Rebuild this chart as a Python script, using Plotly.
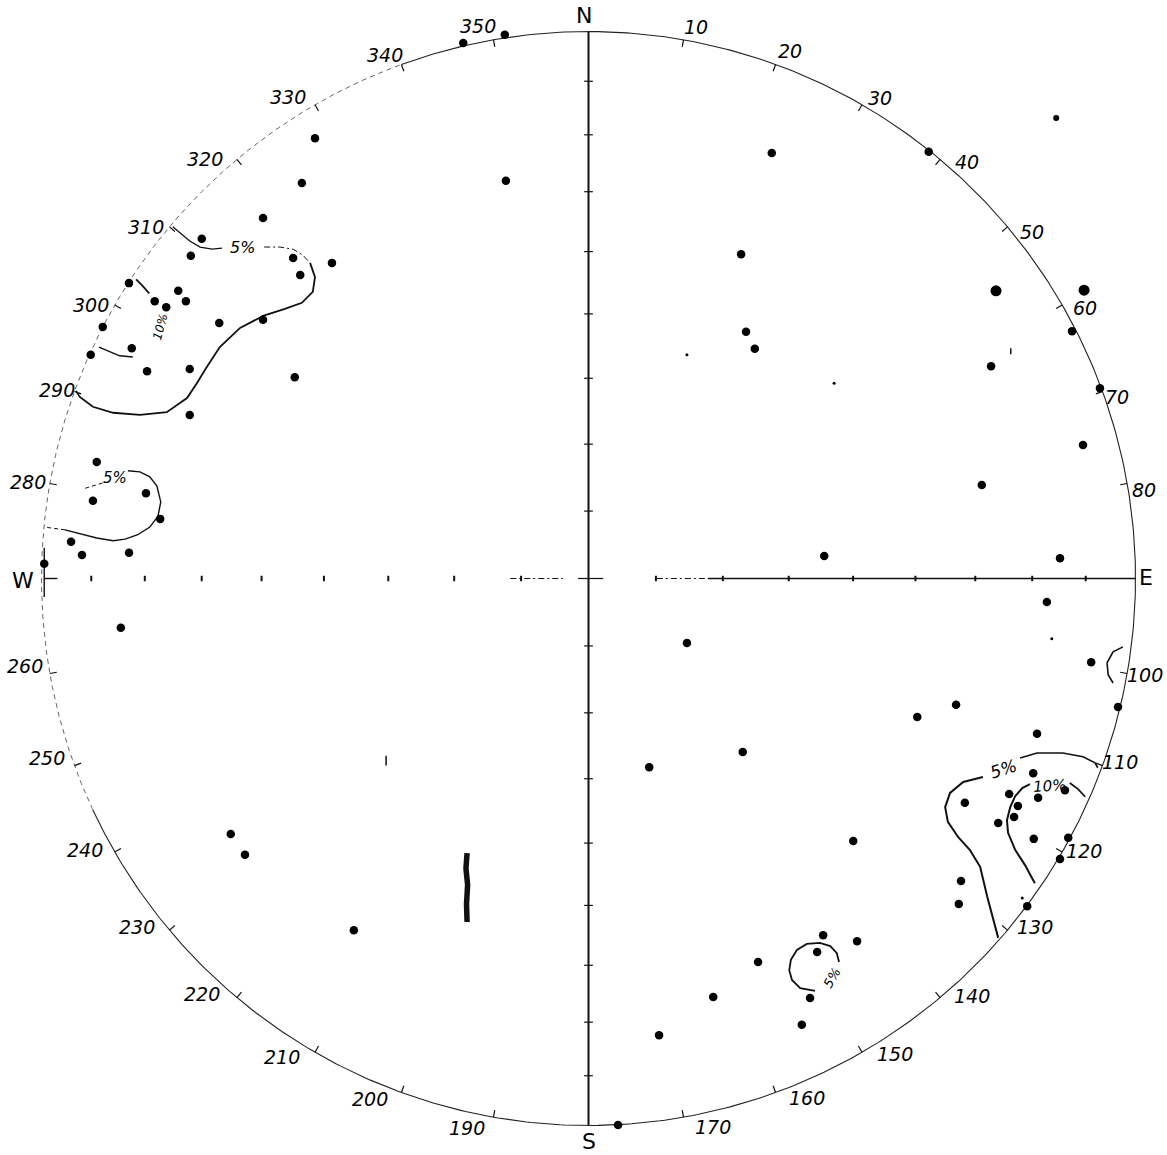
import numpy as np
import plotly.graph_objects as go

# ---------------- DATA (equal-area net coordinates: x = east, y = north, net radius = 1) -------------
pole_x = [-0.500, -0.524, -0.595, -0.707, -0.727, -0.540, -0.469, -0.527, -0.840, -0.750,
          -0.736, -0.793, -0.772, -0.675, -0.595, -0.888, -0.835, -0.910, -0.807, -0.729,
          -0.537, -0.729, -0.899, -0.906, -0.809, -0.783, -0.946, -0.926, -0.840, -0.995,
          -0.855, -0.229, -0.153, -0.151, 0.335, 0.279, 0.288, 0.304, 0.622,
          0.884, 0.736, 0.935, 0.904, 0.719, 0.431, 0.862, 0.838, 0.919, 0.672, 0.601,
          0.968, 0.820, 0.180, 0.282, 0.111, 0.813, 0.769, 0.822, 0.688, 0.785,
          0.778, 0.749, 0.814, 0.877, 0.862, 0.484, 0.681, 0.677, 0.802, 0.429,
          0.491, 0.418, 0.405, 0.390, 0.310, 0.228, 0.129, 0.054, -0.654, -0.628,
          -0.429, 0.871]
pole_y = [0.805, 0.723, 0.659, 0.621, 0.590, 0.586, 0.577, 0.555, 0.540, 0.526,
          0.507, 0.507, 0.496, 0.467, 0.473, 0.460, 0.421, 0.409, 0.379, 0.383,
          0.368, 0.299, 0.213, 0.142, 0.156, 0.109, 0.067, 0.043, 0.047, 0.027,
          -0.090, 0.979, 0.994, 0.727, 0.778, 0.593, 0.451, 0.420, 0.780,
          0.452, 0.388, 0.348, 0.244, 0.171, 0.041, 0.037, -0.043, -0.153, -0.231, -0.253,
          -0.235, -0.284, -0.118, -0.317, -0.345, -0.356, -0.394, -0.401, -0.410, -0.416,
          -0.436, -0.447, -0.476, -0.474, -0.513, -0.480, -0.553, -0.595, -0.599, -0.652,
          -0.663, -0.683, -0.767, -0.816, -0.701, -0.765, -0.835, -0.999, -0.467, -0.505,
          -0.643, -0.387]

# poles drawn as larger blots
blot_x = [0.745, 0.906]
blot_y = [0.526, 0.527]
# small pole
small_x = [0.855]
small_y = [0.842]
# faint specks
speck_x = [0.449, 0.180, 0.847, 0.793]
speck_y = [0.357, 0.409, -0.110, -0.584]
# ink smudge and strokes
smudge_x = [-0.222, -0.224, -0.221, -0.223, -0.222]
smudge_y = [-0.502, -0.530, -0.560, -0.595, -0.628]
stroke1_x = [-0.370, -0.370]
stroke1_y = [-0.324, -0.342]
stroke2_x = [0.772, 0.772]
stroke2_y = [0.421, 0.410]

# density contours (percent per 1% area)
nw5_a_x = [-0.760, -0.747, -0.729, -0.710, -0.688, -0.670]
nw5_a_y = [0.643, 0.632, 0.617, 0.606, 0.602, 0.604]
nw5_b_x = [-0.593, -0.564, -0.540, -0.522, -0.509]
nw5_b_y = [0.606, 0.606, 0.602, 0.591, 0.577]
nw5_c_x = [-0.509, -0.500, -0.504, -0.524, -0.555, -0.595, -0.637, -0.674, -0.699, -0.716,
           -0.734, -0.771, -0.820, -0.869, -0.906, -0.930, -0.937]
nw5_c_y = [0.577, 0.551, 0.524, 0.504, 0.493, 0.480, 0.458, 0.423, 0.385, 0.357,
           0.330, 0.304, 0.299, 0.303, 0.314, 0.332, 0.343]
nw10_a_x = [-0.827, -0.816, -0.803]
nw10_a_y = [0.547, 0.536, 0.521]
nw10_b_x = [-0.895, -0.875, -0.857, -0.833]
nw10_b_y = [0.423, 0.414, 0.407, 0.405]

w5_a_x = [-0.920, -0.884]
w5_a_y = [0.165, 0.176]
w5_b_x = [-0.842, -0.820, -0.802, -0.789, -0.782, -0.787, -0.802, -0.824, -0.847, -0.869,
          -0.899, -0.924, -0.957]
w5_b_y = [0.197, 0.195, 0.186, 0.169, 0.140, 0.114, 0.094, 0.080, 0.072, 0.069,
          0.074, 0.080, 0.089]
w5_c_x = [-0.957, -0.984, -0.995]
w5_c_y = [0.089, 0.092, 0.094]

e100_x = [0.977, 0.959, 0.948, 0.950, 0.959]
e100_y = [-0.125, -0.134, -0.154, -0.176, -0.191]

se5_a_x = [0.931, 0.926, 0.904, 0.867, 0.820, 0.789]
se5_a_y = [-0.346, -0.337, -0.326, -0.319, -0.319, -0.328]
se5_b_x = [0.721, 0.685, 0.661, 0.652, 0.657, 0.676, 0.697, 0.716, 0.729, 0.740, 0.749]
se5_b_y = [-0.363, -0.372, -0.392, -0.418, -0.445, -0.473, -0.496, -0.527, -0.582, -0.624, -0.657]
se10_a_x = [0.908, 0.895, 0.880]
se10_a_y = [-0.399, -0.385, -0.374]
se10_b_x = [0.807, 0.793, 0.780, 0.771, 0.765, 0.767, 0.780, 0.798, 0.816]
se10_b_y = [-0.376, -0.383, -0.398, -0.418, -0.442, -0.465, -0.496, -0.524, -0.557]

s5_x = [0.458, 0.454, 0.442, 0.423, 0.399, 0.381, 0.370, 0.367, 0.372, 0.387, 0.414]
s5_y = [-0.701, -0.685, -0.672, -0.666, -0.668, -0.679, -0.697, -0.716, -0.734, -0.749, -0.754]

# azimuth ring labels
ring_labels = ["10", "20", "30", "40", "50", "60", "70", "80", "100", "110", "120", "130",
               "140", "150", "160", "170", "190", "200", "210", "220", "230", "240", "250",
               "260", "280", "290", "300", "310", "320", "330", "340", "350"]
cardinal_labels = ["N", "E", "S", "W"]
contour_labels = ["5%", "5%", "10%", "5%", "10%", "5%"]

# ---------------- LAYOUT (label placement, in net coordinates) ----------------
ring_label_pos = [(0.197, 1.008), (0.368, 0.964), (0.533, 0.878), (0.692, 0.761), (0.811, 0.633),
                  (0.908, 0.495), (0.966, 0.332), (1.016, 0.162), (1.017, -0.176), (0.972, -0.335),
                  (0.906, -0.498), (0.816, -0.637), (0.701, -0.763), (0.560, -0.869),
                  (0.399, -0.950), (0.228, -1.003), (-0.222, -1.005), (-0.399, -0.952),
                  (-0.560, -0.875), (-0.707, -0.760), (-0.825, -0.637), (-0.920, -0.496),
                  (-0.990, -0.328), (-1.030, -0.160), (-1.025, 0.176), (-0.972, 0.345),
                  (-0.910, 0.500), (-0.809, 0.643), (-0.701, 0.767), (-0.549, 0.880),
                  (-0.372, 0.957), (-0.202, 1.010)]
cardinal_pos = [(-0.008, 1.030), (1.019, 0.001), (0.001, -1.030), (-1.034, -0.003)]
contour_label_pos = [(-0.632, 0.606, 0), (-0.866, 0.184, 0), (-0.783, 0.460, -75),
                     (0.758, -0.348, -18), (0.842, -0.379, -4), (0.446, -0.730, -60)]
contour_label_size = [16, 15, 12, 17, 15, 13]

R = 547.0
W_PX, H_PX = 1167, 1155
CX, CY = 588.5, 578.5
xr = [-CX / R, (W_PX - CX) / R]
yr = [-(H_PX - CY) / R, CY / R]

INK = "#000000"
fig = go.Figure()


def line(xs, ys, width=1.2, dash="solid", color="#111111"):
    fig.add_trace(go.Scatter(x=xs, y=ys, mode="lines", hoverinfo="skip", showlegend=False,
                             line=dict(color=color, width=width, dash=dash)))


# primitive circle
az_solid = np.radians(np.arange(340, 605.01, 0.5))
az_dash = np.radians(np.arange(245, 340.01, 0.5))
line(np.sin(az_solid), np.cos(az_solid), width=1.1, color="#222222")
line(np.sin(az_dash), np.cos(az_dash), width=0.9, dash="5px,4px", color="#555555")

# circle ticks every 10 degrees
tx, ty = [], []
for a in range(10, 360, 10):
    if a % 90 == 0:
        continue
    ar = np.radians(a)
    tx += [0.987 * np.sin(ar), 1.0 * np.sin(ar), None]
    ty += [0.987 * np.cos(ar), 1.0 * np.cos(ar), None]
line(tx, ty, width=1.2)

# equal-area radii of 10-degree graduations along the diameters
rk = [np.sqrt(2) * np.sin(np.radians(5 * k)) for k in range(1, 9)]

# N-S diameter
line([0, 0], [-1, 1], width=2.0)
nx_, ny_ = [], []
for r in rk:
    for s in (1, -1):
        nx_ += [-0.008, 0.008, None]
        ny_ += [s * r, s * r, None]
line(nx_, ny_, width=1.2)

# E-W diameter
line([-0.143, -0.047], [0, 0], width=1.0, dash="6px,3px,2px,3px")
line([-0.019, 0.027], [0, 0], width=1.2)
line([0.125, 0.218], [0, 0], width=1.0, dash="6px,3px,2px,3px")
line([0.218, 1.0], [0, 0], width=1.4)
ex_, ey_ = [], []
for r in rk:
    for s in (1, -1):
        ex_ += [s * r, s * r, None]
        ey_ += [-0.005, 0.005, None]
line(ex_, ey_, width=2.0)
# W mark
line([-0.995, -0.995], [0.056, -0.034], width=1.4)
line([-0.995, -0.971], [0, 0], width=1.4)

# contours
line(nw5_a_x, nw5_a_y, width=1.3)
line(nw5_b_x, nw5_b_y, width=1.0, dash="6px,3px,2px,3px")
line(nw5_c_x, nw5_c_y, width=1.8)
line(nw10_a_x, nw10_a_y, width=1.8)
line(nw10_b_x, nw10_b_y, width=1.5)
line(w5_a_x, w5_a_y, width=1.0, dash="4px,3px")
line(w5_b_x, w5_b_y, width=1.4)
line(w5_c_x, w5_c_y, width=1.0, dash="4px,3px")
line(e100_x, e100_y, width=1.6)
line(se5_a_x, se5_a_y, width=1.6)
line(se5_b_x, se5_b_y, width=2.0)
line(se10_a_x, se10_a_y, width=1.8)
line(se10_b_x, se10_b_y, width=2.0)
line(s5_x, s5_y, width=1.8)

# ink marks
line(smudge_x, smudge_y, width=5.5)
line(stroke1_x, stroke1_y, width=1.5)
line(stroke2_x, stroke2_y, width=1.5)

# poles
fig.add_trace(go.Scatter(x=pole_x, y=pole_y, mode="markers", hoverinfo="skip", showlegend=False,
                         marker=dict(size=8.5, color=INK, line=dict(width=0))))
fig.add_trace(go.Scatter(x=blot_x, y=blot_y, mode="markers", hoverinfo="skip", showlegend=False,
                         marker=dict(size=11, color=INK, symbol="circle", line=dict(width=0))))
fig.add_trace(go.Scatter(x=small_x, y=small_y, mode="markers", hoverinfo="skip", showlegend=False,
                         marker=dict(size=6, color=INK, line=dict(width=0))))
fig.add_trace(go.Scatter(x=speck_x, y=speck_y, mode="markers", hoverinfo="skip", showlegend=False,
                         marker=dict(size=3, color=INK, line=dict(width=0))))

ann = []
lab_font = dict(family="DejaVu Sans", size=19, color=INK, style="italic")
for t, (x, y) in zip(ring_labels, ring_label_pos):
    ann.append(dict(x=x, y=y, text=t, showarrow=False, font=lab_font, xanchor="center", yanchor="middle"))
for t, (x, y) in zip(cardinal_labels, cardinal_pos):
    ann.append(dict(x=x, y=y, text=t, showarrow=False,
                    font=dict(family="DejaVu Sans", size=22, color=INK),
                    xanchor="center", yanchor="middle"))
for t, (x, y, ang), sz in zip(contour_labels, contour_label_pos, contour_label_size):
    ann.append(dict(x=x, y=y, text=t, showarrow=False, textangle=ang,
                    font=dict(family="DejaVu Sans", size=sz, color=INK, style="italic"),
                    xanchor="center", yanchor="middle"))

fig.update_layout(
    width=W_PX, height=H_PX, autosize=False,
    margin=dict(l=0, r=0, t=0, b=0, pad=0),
    paper_bgcolor="white", plot_bgcolor="white", showlegend=False,
    xaxis=dict(range=xr, visible=False, fixedrange=True),
    yaxis=dict(range=yr, visible=False, fixedrange=True),
    annotations=ann,
)

fig.write_html("out.html", config={"displayModeBar": False},
               post_script="document.body.style.margin='0';")
